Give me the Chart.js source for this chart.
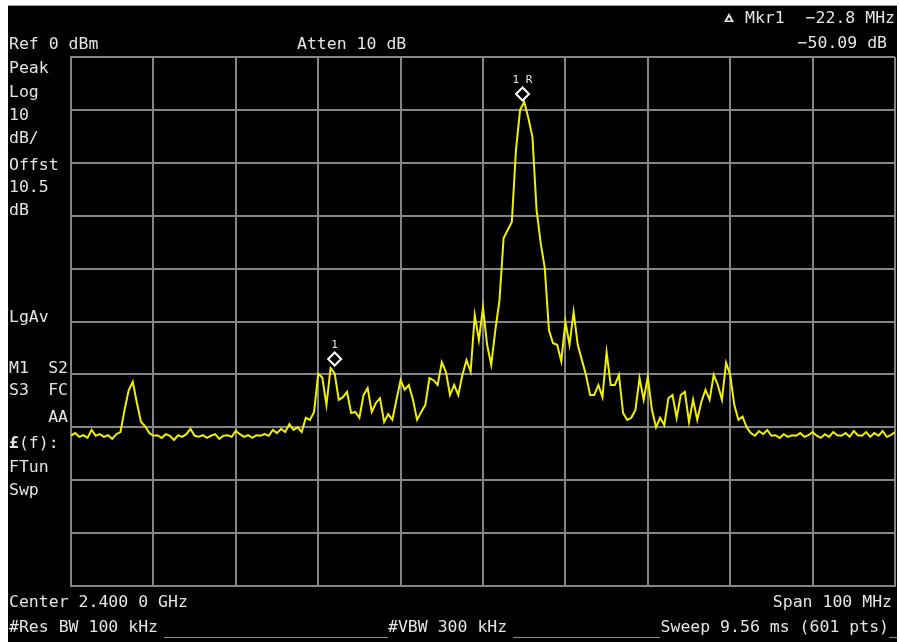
<!DOCTYPE html>
<html>
<head>
<meta charset="utf-8">
<script src="https://cdn.jsdelivr.net/npm/chart.js@4.4.1/dist/chart.umd.min.js"></script>
<style>
html,body{margin:0;padding:0;background:#fff;}
canvas{display:block;}
</style>
</head>
<body>
<canvas id="c" width="899" height="642"></canvas>
<script>
// Sweep: 2350 - 2450 MHz (Center 2.4 GHz, Span 100 MHz), sampled every 0.5 MHz
const startFreqMHz = 2350;
const stepMHz = 0.5;
// Trace amplitudes in dBm
const amplitudes = [
  -71.6, -71.1, -71.8, -71.5, -72.0, -70.5, -71.6, -71.3, -71.8, -71.5, -72.2, -71.3, -70.9,
  -66.7, -63.0, -61.4, -65.4, -69.0, -69.8, -71.1,
  -71.6, -71.5, -72.0, -71.3, -71.6, -72.4, -71.5, -71.8, -71.3, -70.3, -71.6, -71.8, -71.5, -72.0, -71.6, -71.3, -72.2, -71.6, -71.5, -71.8,
  -70.7, -71.3, -71.8, -71.5, -72.0, -71.5, -71.6, -71.3, -71.6, -70.5, -71.1, -70.3, -70.9, -69.4, -70.5, -70.0, -70.9, -68.2, -68.6, -67.1,
  -59.9, -60.6, -65.8, -58.8, -59.8, -64.8, -64.3, -63.3, -67.3, -67.1, -68.2, -63.9, -62.6, -67.1, -65.4, -64.5, -69.0, -67.5, -68.6, -64.8,
  -61.1, -62.9, -62.0, -64.8, -68.6, -67.1, -65.8, -60.7, -61.1, -62.0, -57.7, -59.5, -63.9, -62.0, -63.9, -60.1, -57.3, -59.5, -48.8, -53.5,
  -47.4, -54.4, -58.2, -51.6, -46.0, -34.2, -32.7, -31.2, -17.6, -10.0, -8.5, -11.5, -15.1, -28.9, -35.2, -39.9, -51.6, -54.1, -54.4, -57.5,
  -50.1, -54.4, -48.2, -54.4, -57.3, -60.1, -63.9, -63.9, -62.0, -64.3, -55.8, -62.0, -62.0, -60.1, -67.3, -68.6, -68.2, -66.7, -60.7, -64.8,
  -60.5, -66.7, -70.0, -68.2, -69.6, -64.5, -63.9, -68.2, -63.9, -63.3, -69.0, -64.8, -68.6, -65.2, -62.9, -64.8, -60.1, -62.0, -64.8, -57.8,
  -60.1, -65.8, -68.6, -68.0, -70.0, -71.1, -71.6, -70.7, -71.3, -70.5, -71.6, -71.5, -72.0, -71.3, -71.8, -71.5, -71.6, -71.1, -71.8, -71.5,
  -70.9, -71.6, -72.0, -71.3, -71.8, -70.9, -71.5, -71.6, -71.1, -71.8, -70.7, -71.5, -71.6, -70.9, -71.8, -71.1, -71.6, -70.7, -71.8, -71.5, -70.9
];
const frequencies = amplitudes.map((_, i) => startFreqMHz + i * stepMHz);

// Markers
const markerLabels = ['1R', '1'];
const markerFreqs = [2404.8, 2382.0];
const markerAmps = [-7.0, -57.09];

// Axis settings
const xMin = 2350, xMax = 2450, xStep = 10;
const yMin = -100, yMax = 0, yStep = 10;

// Annotation texts
const topTexts = { ref: 'Ref 0 dBm', atten: 'Atten 10 dB', mkr: 'Mkr1', mkrFreq: '\u221222.8 MHz', mkrDelta: '\u221250.09 dB' };
const leftLabels = ['Peak', 'Log', '10', 'dB/', 'Offst', '10.5', 'dB', 'LgAv'];
const bottomTexts = { center: 'Center 2.400 0 GHz', span: 'Span 100 MHz', rbw: '#Res BW 100 kHz', vbw: '#VBW 300 kHz', sweep: 'Sweep 9.56 ms (601 pts)' };

const FONT = '"DejaVu Sans Mono", "Liberation Mono", monospace';
const TXT = '#e4e4e4';
const GRID = '#858585';

const screenPlugin = {
  id: 'screen',
  beforeDraw(chart) {
    const ctx = chart.ctx;
    ctx.save();
    ctx.fillStyle = '#ffffff';
    ctx.fillRect(0, 0, chart.width, chart.height);
    ctx.fillStyle = '#000000';
    ctx.fillRect(8, 6, 889, 636);
    ctx.fillStyle = '#9a9a9a';
    ctx.fillRect(8, 5, 889, 1);
    ctx.restore();
  },
  afterDraw(chart) {
    const ctx = chart.ctx;
    const xs = chart.scales.x, ys = chart.scales.y;
    ctx.save();
    ctx.fillStyle = TXT;
    ctx.font = '16.5px ' + FONT;
    ctx.textBaseline = 'alphabetic';
    ctx.textAlign = 'left';
    // top
    ctx.fillText(topTexts.ref, 9, 49);
    ctx.fillText(topTexts.atten, 297, 49);
    ctx.fillText(topTexts.mkr, 745, 23);
    ctx.textAlign = 'right';
    ctx.fillText(topTexts.mkrFreq, 895, 23);
    ctx.fillText(topTexts.mkrDelta, 887, 48);
    // delta triangle
    ctx.beginPath();
    ctx.moveTo(729, 13); ctx.lineTo(734, 22); ctx.lineTo(724, 22); ctx.closePath();
    ctx.fill();
    ctx.fillStyle = '#000';
    ctx.beginPath();
    ctx.moveTo(729, 17); ctx.lineTo(731, 20.5); ctx.lineTo(727, 20.5); ctx.closePath();
    ctx.fill();
    ctx.fillStyle = TXT;
    // left column
    ctx.textAlign = 'left';
    const leftBase = [73, 97, 120, 143, 170, 192, 215, 322];
    leftLabels.forEach((t, i) => ctx.fillText(t, 9, leftBase[i]));
    ctx.fillText('M1', 9, 373);
    ctx.fillText('S3', 9, 395);
    ctx.textAlign = 'right';
    ctx.fillText('S2', 68, 373);
    ctx.fillText('FC', 68, 395);
    ctx.fillText('AA', 68, 422);
    ctx.textAlign = 'left';
    ctx.font = 'bold 16.5px ' + FONT;
    ctx.fillText('\u00a3', 9, 448);
    const w = ctx.measureText('\u00a3').width;
    ctx.font = '16.5px ' + FONT;
    ctx.fillText('(f):', 9 + w, 448);
    ctx.fillText('FTun', 9, 472);
    ctx.fillText('Swp', 9, 495);
    // bottom
    ctx.fillText(bottomTexts.center, 9, 607);
    ctx.fillText(bottomTexts.rbw, 9, 632);
    ctx.fillText(bottomTexts.vbw, 388, 632);
    ctx.textAlign = 'right';
    ctx.fillText(bottomTexts.span, 892, 607);
    ctx.fillText(bottomTexts.sweep, 889, 632);
    // separators
    ctx.fillStyle = '#8a8a8a';
    ctx.fillRect(164, 637, 224, 1);
    ctx.fillRect(513, 637, 147, 1);
    ctx.fillRect(889, 637, 8, 1);
    // marker labels
    ctx.fillStyle = TXT;
    ctx.font = '11px ' + FONT;
    ctx.textAlign = 'center';
    markerLabels.forEach((lab, i) => {
      const px = xs.getPixelForValue(markerFreqs[i]);
      const py = ys.getPixelForValue(markerAmps[i]);
      ctx.fillText(lab.split('').join(' '), px, py - 11);
    });
    ctx.restore();
  }
};

new Chart(document.getElementById('c'), {
  type: 'line',
  data: {
    datasets: [
      {
        data: frequencies.map((f, i) => ({ x: f, y: amplitudes[i] })),
        borderColor: '#f0f000',
        borderWidth: 2,
        pointRadius: 0,
        tension: 0,
        fill: false
      },
      {
        type: 'scatter',
        data: markerFreqs.map((f, i) => ({ x: f, y: markerAmps[i] })),
        pointStyle: 'rectRot',
        pointRadius: 6.5,
        borderColor: '#ffffff',
        backgroundColor: '#000000',
        borderWidth: 2
      }
    ]
  },
  options: {
    responsive: false,
    animation: false,
    devicePixelRatio: 1,
    layout: { autoPadding: false, padding: { left: 71, right: 4, top: 57, bottom: 56 } },
    plugins: { legend: { display: false }, tooltip: { enabled: false } },
    scales: {
      x: {
        type: 'linear', min: xMin, max: xMax,
        ticks: { display: false, stepSize: xStep },
        grid: { color: GRID, lineWidth: 2, drawTicks: false },
        border: { color: GRID, width: 2 }
      },
      y: {
        type: 'linear', min: yMin, max: yMax,
        ticks: { display: false, stepSize: yStep },
        grid: { color: GRID, lineWidth: 2, drawTicks: false },
        border: { color: GRID, width: 2 }
      }
    }
  },
  plugins: [screenPlugin]
});
</script>
</body>
</html>
